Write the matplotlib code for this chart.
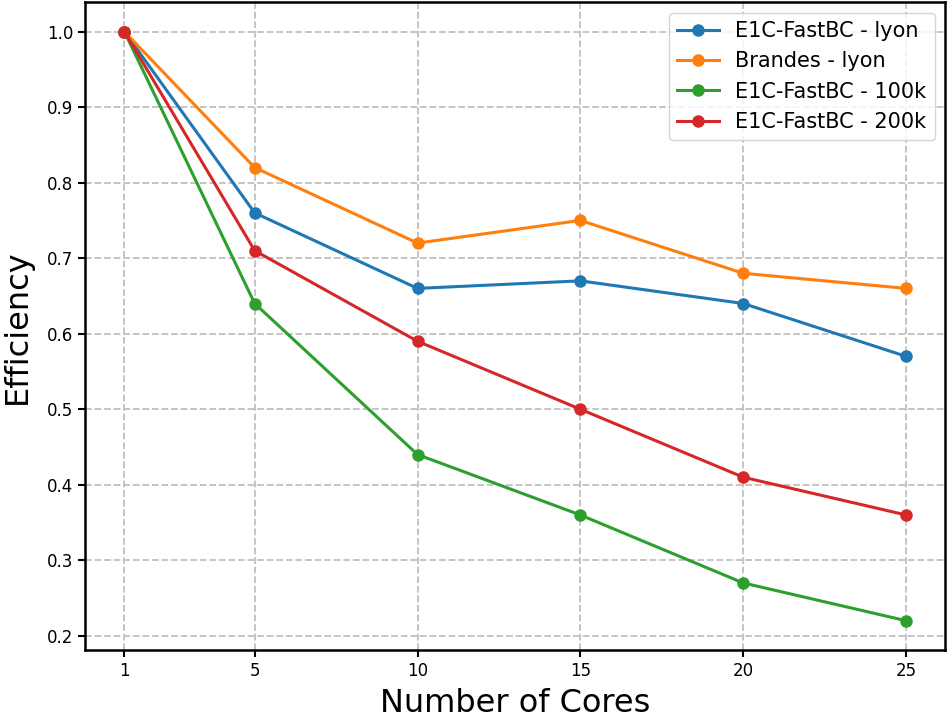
import matplotlib
matplotlib.use('Agg')
import matplotlib.pyplot as plt

cores = [1, 5, 10, 15, 20, 25]
fastbc_lyon = [1.0, 0.76, 0.66, 0.67, 0.64, 0.57]
brandes_lyon = [1.0, 0.82, 0.72, 0.75, 0.68, 0.66]
fastbc_100k = [1.0, 0.64, 0.44, 0.36, 0.27, 0.22]
fastbc_200k = [1.0, 0.71, 0.59, 0.50, 0.41, 0.36]

fig, ax = plt.subplots(figsize=(9.48, 7.2), dpi=100)
fig.subplots_adjust(left=0.09, right=0.997, bottom=0.097, top=0.997)

ax.plot(cores, fastbc_lyon, marker='o', lw=2.2, ms=8, label='E1C-FastBC - lyon')
ax.plot(cores, brandes_lyon, marker='o', lw=2.2, ms=8, label='Brandes - lyon')
ax.plot(cores, fastbc_100k, marker='o', lw=2.2, ms=8, label='E1C-FastBC - 100k')
ax.plot(cores, fastbc_200k, marker='o', lw=2.2, ms=8, label='E1C-FastBC - 200k')

ax.set_xticks(cores)
ax.tick_params(labelsize=12, width=1.5, length=5)
ax.grid(True, linestyle='--', color='#c0c0c0', lw=1.3)
for s in ax.spines.values():
    s.set_linewidth(1.8)

ax.set_xlabel('Number of Cores', fontsize=23, labelpad=6)
ax.set_ylabel('Efficiency', fontsize=23, labelpad=10)
ax.legend(fontsize=15, loc='upper right')

plt.savefig('out.png')
